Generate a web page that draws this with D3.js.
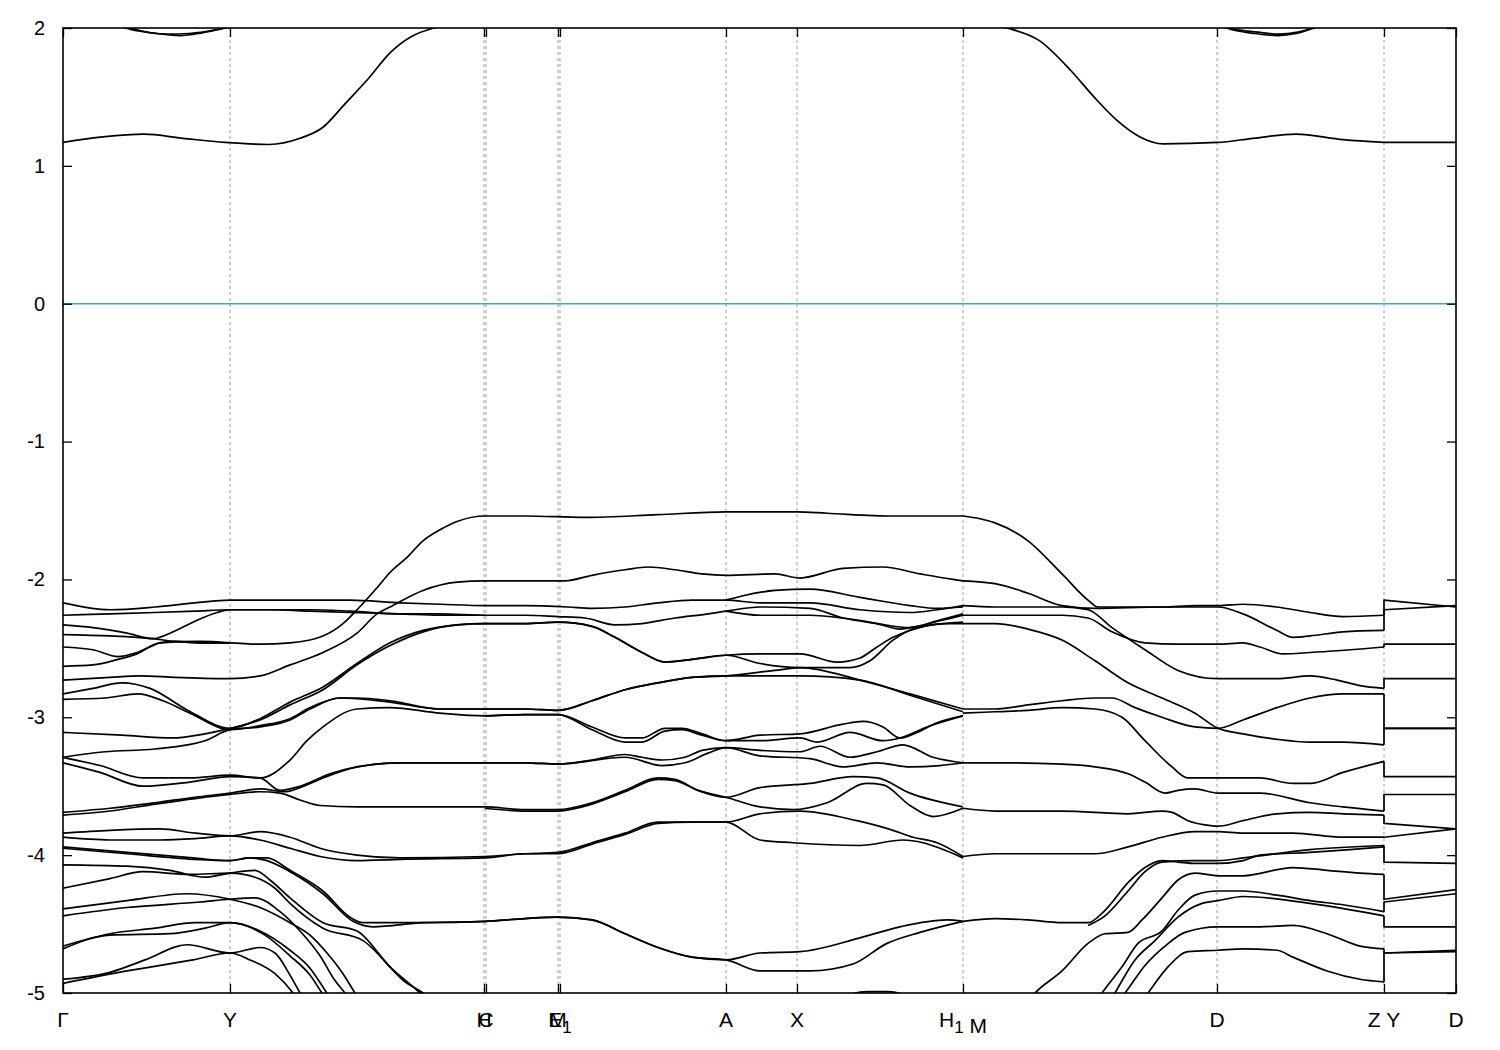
<!DOCTYPE html>
<html><head><meta charset="utf-8">
<script src="https://cdn.jsdelivr.net/npm/d3@7"></script>
<style>
body{margin:0;background:#fff}
text{font-family:"Liberation Sans",Arial,Helvetica,sans-serif;fill:#000}
</style>
</head><body>
<svg id="chart" width="1500" height="1050"></svg>
<script>
// ---------------- DATA ----------------
const yTickValues = [2, 1, 0, -1, -2, -3, -4, -5];
const kPointPositions = [0, 1.67, 4.21, 4.23, 4.95, 4.97, 6.63, 7.34, 9.00, 11.54, 13.21, 13.93];
const kPointLabels = ["Γ", "Y", "H", "C", "M", "E_1", "A", "X", "H_1 M", "D", "Z Y", "D"];
const fermiLevel = 0;
const kRange = [0, 13.93];
const energyRange = [-5, 2];

// valence bands along Γ–Y–H|C–M|E1–A–X–H1  ([k, E] pairs)
const bandsGammaToH1 = [
 [[0,-2.17],[0.47,-2.22],[0.92,-2.20],[1.32,-2.17],[1.67,-2.15],[2.07,-2.15],[2.47,-2.15],[2.87,-2.15],[3.37,-2.17],[3.77,-2.18],[4.22,-2.19],[4.62,-2.19],[5.05,-2.20],[5.29,-2.21],[5.62,-2.20],[5.95,-2.17],[6.29,-2.15],[6.63,-2.15],[6.97,-2.17],[7.47,-2.17],[7.97,-2.22],[8.47,-2.24],[8.74,-2.22],[9.00,-2.19]],
 [[6.63,-2.15],[6.79,-2.12],[7.12,-2.08],[7.47,-2.07],[7.97,-2.13],[8.47,-2.19],[8.74,-2.21],[9.00,-2.20]],
 [[0,-2.26],[0.47,-2.25],[0.92,-2.24],[1.32,-2.23],[1.67,-2.22],[2.07,-2.22],[2.47,-2.22],[2.87,-2.23],[3.37,-2.25],[3.77,-2.25],[4.22,-2.26],[4.62,-2.26],[4.95,-2.27],[5.22,-2.28],[5.52,-2.33],[5.79,-2.32],[6.12,-2.28],[6.45,-2.25],[6.63,-2.23],[6.97,-2.20],[7.47,-2.21],[7.80,-2.28],[8.14,-2.32],[8.47,-2.35],[8.74,-2.30],[9.00,-2.25]],
 [[6.63,-2.23],[6.97,-2.26],[7.47,-2.26],[7.80,-2.28],[8.14,-2.32],[8.37,-2.36],[8.54,-2.34],[8.77,-2.30],[9.00,-2.26]],
 [[0,-2.33],[0.30,-2.35],[0.64,-2.39],[0.90,-2.43],[1.07,-2.39],[1.30,-2.31],[1.54,-2.24],[1.67,-2.22],[2.07,-2.22],[2.47,-2.23],[2.87,-2.24],[3.37,-2.25],[3.77,-2.26],[4.22,-2.26]],
 [[0,-2.40],[0.47,-2.41],[0.90,-2.43],[1.12,-2.45],[1.37,-2.46],[1.67,-2.46],[1.97,-2.47],[2.27,-2.46],[2.60,-2.41],[2.80,-2.32],[2.94,-2.22],[3.14,-2.06],[3.27,-1.95],[3.44,-1.84],[3.60,-1.72],[3.77,-1.64],[3.94,-1.58],[4.22,-1.54],[4.62,-1.54],[5.22,-1.55],[5.95,-1.53],[6.63,-1.51],[7.34,-1.51],[7.64,-1.52],[8.30,-1.54],[9.00,-1.54]],
 [[0,-2.49],[0.30,-2.51],[0.55,-2.56],[0.74,-2.53],[0.97,-2.46],[1.12,-2.45],[1.37,-2.46],[1.67,-2.46]],
 [[0,-2.63],[0.30,-2.62],[0.55,-2.58],[0.74,-2.54],[0.97,-2.46],[1.37,-2.45],[1.67,-2.46]],
 [[0,-2.73],[0.47,-2.71],[0.77,-2.70],[1.12,-2.71],[1.67,-2.72],[1.97,-2.70],[2.27,-2.62],[2.60,-2.53],[2.94,-2.39],[3.14,-2.25],[3.27,-2.20],[3.60,-2.08],[3.94,-2.02],[4.22,-2.01],[4.62,-2.01],[5.02,-2.01],[5.29,-1.97],[5.62,-1.93],[5.85,-1.91],[6.12,-1.93],[6.39,-1.96],[6.63,-1.97],[7.12,-1.96],[7.37,-1.99],[7.80,-1.92],[8.20,-1.91],[8.57,-1.96],[8.90,-2.00],[9.00,-2.01]],
 [[0,-2.83],[0.30,-2.79],[0.59,-2.75],[0.87,-2.79],[1.25,-2.95],[1.67,-3.08],[1.97,-3.01],[2.27,-2.89],[2.60,-2.78],[2.94,-2.61],[3.27,-2.46],[3.60,-2.37],[3.94,-2.33],[4.22,-2.32],[4.62,-2.32],[4.95,-2.31],[5.29,-2.34],[5.52,-2.42],[5.79,-2.53],[6.02,-2.60],[6.29,-2.58],[6.63,-2.55],[6.97,-2.54],[7.37,-2.54],[7.74,-2.60],[7.97,-2.57],[8.14,-2.49],[8.30,-2.42],[8.47,-2.37],[8.80,-2.32],[9.00,-2.32]],
 [[0,-3.11],[0.59,-3.13],[1.09,-3.15],[1.42,-3.12],[1.67,-3.08],[1.97,-3.02],[2.27,-2.91],[2.60,-2.80],[2.94,-2.62],[3.27,-2.48],[3.60,-2.38],[3.94,-2.33],[4.22,-2.32],[4.62,-2.32],[4.95,-2.31],[5.29,-2.34],[5.52,-2.42],[5.79,-2.53],[6.02,-2.60],[6.29,-2.58],[6.63,-2.55],[6.97,-2.61],[7.37,-2.64],[7.87,-2.64],[8.07,-2.59],[8.30,-2.44],[8.54,-2.35],[9.00,-2.31]],
 [[0,-2.87],[0.42,-2.86],[0.75,-2.83],[1.00,-2.88],[1.27,-2.97],[1.67,-3.09],[1.97,-3.06],[2.27,-3.01],[2.47,-2.93],[2.77,-2.86],[2.94,-2.86],[3.27,-2.88],[3.77,-2.94],[4.22,-2.94],[4.62,-2.94],[4.95,-2.95],[5.29,-2.88],[5.62,-2.80],[5.95,-2.75],[6.29,-2.71],[6.63,-2.70],[7.12,-2.66],[7.37,-2.64],[7.97,-2.73],[8.47,-2.83],[9.00,-2.94]],
 [[0,-3.29],[0.42,-3.25],[0.92,-3.23],[1.42,-3.17],[1.67,-3.09],[1.97,-3.07],[2.27,-3.02],[2.47,-2.94],[2.77,-2.86],[3.27,-2.89],[3.77,-2.94],[4.22,-2.94],[4.62,-2.94],[4.95,-2.95],[5.29,-2.88],[5.62,-2.80],[5.95,-2.75],[6.29,-2.71],[6.63,-2.70],[6.97,-2.70],[7.37,-2.70],[7.97,-2.73],[8.47,-2.84],[9.00,-2.96]],
 [[0,-3.29],[0.37,-3.35],[0.80,-3.44],[1.27,-3.44],[1.67,-3.42],[1.97,-3.44],[2.27,-3.31],[2.44,-3.17],[2.60,-3.07],[2.94,-2.94],[3.27,-2.93],[3.77,-2.97],[4.22,-2.99],[4.62,-2.98],[4.95,-2.98],[5.29,-3.07],[5.62,-3.15],[5.79,-3.15],[6.02,-3.08],[6.19,-3.08],[6.39,-3.12],[6.63,-3.17],[6.97,-3.13],[7.37,-3.12],[7.80,-3.05],[8.00,-3.03],[8.20,-3.07],[8.37,-3.15],[8.54,-3.11],[8.74,-3.04],[9.00,-2.99]],
 [[0,-3.33],[0.37,-3.40],[0.80,-3.50],[1.27,-3.47],[1.67,-3.43],[1.97,-3.44],[2.17,-3.53],[2.37,-3.50],[2.67,-3.41],[2.94,-3.36],[3.37,-3.33],[4.22,-3.33],[4.62,-3.33],[4.95,-3.34],[5.29,-3.31],[5.62,-3.27],[5.79,-3.29],[5.99,-3.31],[6.22,-3.29],[6.39,-3.24],[6.63,-3.22],[6.97,-3.24],[7.37,-3.25],[7.57,-3.21],[7.87,-3.29],[8.14,-3.25],[8.40,-3.20],[8.70,-3.29],[9.00,-3.33]],
 [[0,-3.69],[0.47,-3.66],[0.92,-3.62],[1.32,-3.58],[1.67,-3.55],[1.97,-3.52],[2.22,-3.54],[2.37,-3.51],[2.60,-3.44],[2.94,-3.36],[3.37,-3.33],[4.22,-3.33],[4.62,-3.33],[4.95,-3.34],[5.62,-3.29],[5.99,-3.35],[6.22,-3.33],[6.45,-3.26],[6.63,-3.22],[6.97,-3.28],[7.47,-3.30],[7.80,-3.36],[8.14,-3.33],[8.47,-3.36],[8.77,-3.35],[9.00,-3.33]],
 [[0,-3.71],[0.47,-3.68],[0.92,-3.63],[1.32,-3.59],[1.67,-3.56],[1.97,-3.54],[2.17,-3.55],[2.37,-3.60],[2.57,-3.64],[2.94,-3.65],[3.57,-3.65],[4.22,-3.65],[4.62,-3.67],[4.95,-3.67],[5.29,-3.62],[5.62,-3.53],[5.95,-3.44],[6.12,-3.45],[6.35,-3.53],[6.63,-3.58],[6.97,-3.51],[7.47,-3.48],[7.90,-3.43],[8.14,-3.44],[8.47,-3.55],[9.00,-3.65]],
 [[4.22,-2.99],[4.62,-2.98],[4.95,-2.98],[5.29,-3.09],[5.62,-3.18],[5.79,-3.18],[6.02,-3.10],[6.19,-3.09],[6.39,-3.13],[6.63,-3.17],[6.97,-3.17],[7.37,-3.15],[7.54,-3.18],[7.87,-3.11],[8.20,-3.17],[8.37,-3.15],[8.64,-3.07],[9.00,-2.99]],
 [[0,-3.84],[0.47,-3.82],[0.97,-3.81],[1.32,-3.84],[1.67,-3.86],[1.97,-3.83],[2.27,-3.87],[2.57,-3.95],[2.94,-4.00],[3.37,-4.02],[4.22,-4.01],[4.62,-3.99],[4.95,-3.98],[5.29,-3.91],[5.62,-3.84],[5.95,-3.76],[6.29,-3.76],[6.63,-3.76],[6.97,-3.70],[7.37,-3.68],[7.94,-3.75],[8.30,-3.82],[8.50,-3.87],[8.74,-3.91],[9.00,-4.01]],
 [[4.22,-3.66],[4.62,-3.68],[4.95,-3.68],[5.29,-3.63],[5.62,-3.54],[5.95,-3.45],[6.12,-3.46],[6.35,-3.53],[6.63,-3.58],[6.97,-3.65],[7.30,-3.67],[7.64,-3.62],[8.04,-3.48],[8.20,-3.49],[8.47,-3.64],[8.70,-3.72],[9.00,-3.66]],
 [[0,-3.87],[0.47,-3.89],[0.97,-3.89],[1.32,-3.88],[1.67,-3.86],[1.97,-3.89],[2.27,-3.95],[2.57,-4.01],[2.94,-4.04],[3.37,-4.03],[4.22,-4.02],[4.62,-3.99],[4.95,-3.99],[5.29,-3.92],[5.62,-3.85],[5.95,-3.77],[6.29,-3.76],[6.63,-3.76],[6.97,-3.89],[7.30,-3.91],[7.97,-3.93],[8.40,-3.89],[8.60,-3.91],[8.77,-3.95],[9.00,-4.02]],
 [[0,-3.94],[0.64,-3.98],[1.30,-4.02],[1.67,-4.04],[1.87,-4.02],[2.04,-4.02],[2.27,-4.11],[2.60,-4.26],[2.87,-4.45],[3.00,-4.49],[3.60,-4.49],[4.22,-4.48],[4.62,-4.46],[4.95,-4.45],[5.29,-4.47],[5.62,-4.57],[5.95,-4.67],[6.29,-4.74],[6.63,-4.76],[6.97,-4.71],[7.37,-4.70],[7.97,-4.60],[8.37,-4.52],[8.84,-4.47],[9.00,-4.48]],
 [[0,-3.95],[0.64,-3.99],[1.30,-4.03],[1.67,-4.04],[1.87,-4.02],[2.04,-4.04],[2.27,-4.12],[2.60,-4.28],[2.90,-4.48],[3.10,-4.52],[3.60,-4.49],[4.22,-4.48],[4.62,-4.46],[4.95,-4.45],[5.29,-4.47],[5.62,-4.57],[5.95,-4.67],[6.29,-4.74],[6.63,-4.76],[6.97,-4.84],[7.47,-4.84],[7.90,-4.79],[8.24,-4.64],[8.57,-4.56],[9.00,-4.48]],
 [[0,-4.07],[0.64,-4.08],[1.07,-4.11],[1.42,-4.16],[1.67,-4.13],[1.92,-4.11],[2.07,-4.18],[2.27,-4.31],[2.60,-4.49],[2.94,-4.55],[3.27,-4.81],[3.54,-4.98],[3.77,-5.13]],
 [[0,-4.24],[0.47,-4.17],[0.80,-4.12],[1.27,-4.14],[1.67,-4.13],[1.92,-4.16],[2.12,-4.24],[2.27,-4.35],[2.60,-4.53],[3.00,-4.62],[3.44,-4.93],[3.60,-5.00],[3.77,-5.13]],
 [[0,-4.39],[0.64,-4.33],[1.24,-4.28],[1.67,-4.32],[1.97,-4.38],[2.27,-4.49],[2.47,-4.58],[2.64,-4.71],[2.80,-4.86],[2.92,-5.00],[3.07,-5.16]],
 [[0,-4.44],[0.64,-4.38],[1.37,-4.34],[1.67,-4.32],[1.92,-4.31],[2.17,-4.41],[2.37,-4.55],[2.57,-4.73],[2.72,-4.91],[2.82,-5.00],[2.97,-5.16]],
 [[0,-4.66],[0.47,-4.57],[0.92,-4.53],[1.32,-4.49],[1.67,-4.49],[1.97,-4.55],[2.27,-4.69],[2.47,-4.82],[2.62,-4.98],[2.72,-5.09]],
 [[0,-4.68],[0.47,-4.58],[1.07,-4.57],[1.42,-4.53],[1.67,-4.49],[2.02,-4.58],[2.27,-4.73],[2.47,-4.87],[2.59,-5.00],[2.72,-5.13]],
 [[0,-4.90],[0.47,-4.85],[0.82,-4.76],[1.24,-4.65],[1.67,-4.71],[1.97,-4.67],[2.12,-4.71],[2.27,-4.87],[2.37,-5.00],[2.47,-5.13]],
 [[0,-4.93],[0.64,-4.84],[1.30,-4.76],[1.67,-4.71],[1.87,-4.76],[2.12,-4.86],[2.30,-5.00],[2.42,-5.13]],
 [[7.55,-5.10],[8.05,-4.99],[8.25,-4.99],[8.65,-5.10]]
];

// valence bands along M–D–Z
const bandsMToZ = [
 [[9.00,-1.54],[9.17,-1.56],[9.32,-1.59],[9.65,-1.72],[9.99,-1.96],[10.25,-2.15],[10.35,-2.20],[10.65,-2.20],[10.99,-2.20],[11.32,-2.19],[11.55,-2.19],[11.80,-2.18],[12.14,-2.20],[12.47,-2.24],[12.80,-2.27],[13.21,-2.26]],
 [[9.00,-2.01],[9.32,-2.03],[9.65,-2.10],[9.99,-2.19],[10.32,-2.21],[10.99,-2.20],[11.55,-2.20],[11.80,-2.25],[12.14,-2.37],[12.30,-2.42],[12.47,-2.41],[12.80,-2.38],[13.21,-2.37]],
 [[9.00,-2.19],[9.32,-2.20],[9.99,-2.20],[10.25,-2.22],[10.49,-2.35],[10.82,-2.51],[11.15,-2.66],[11.55,-2.72],[12.14,-2.72],[12.47,-2.70],[12.74,-2.73],[12.97,-2.77],[13.21,-2.79]],
 [[9.00,-2.26],[9.32,-2.26],[9.99,-2.26],[10.25,-2.28],[10.49,-2.38],[10.82,-2.46],[11.15,-2.47],[11.55,-2.47],[11.80,-2.46],[11.97,-2.49],[12.20,-2.54],[12.47,-2.53],[13.21,-2.49]],
 [[9.00,-2.32],[9.32,-2.32],[9.65,-2.36],[9.99,-2.44],[10.32,-2.59],[10.65,-2.75],[10.99,-2.86],[11.32,-2.97],[11.55,-3.08],[11.80,-3.12],[12.14,-3.16],[12.47,-3.18],[12.80,-3.18],[13.21,-3.20]],
 [[9.00,-2.94],[9.32,-2.94],[9.65,-2.91],[9.99,-2.88],[10.32,-2.86],[10.49,-2.86],[10.72,-2.93],[10.99,-3.00],[11.32,-3.07],[11.55,-3.08],[11.80,-3.02],[12.14,-2.93],[12.47,-2.86],[12.80,-2.83],[13.21,-2.83]],
 [[9.00,-2.97],[9.32,-2.96],[9.65,-2.95],[9.99,-2.93],[10.32,-2.94],[10.59,-3.00],[10.82,-3.17],[11.09,-3.36],[11.25,-3.44],[11.55,-3.44],[11.97,-3.44],[12.30,-3.48],[12.47,-3.48],[12.80,-3.40],[13.21,-3.32]],
 [[9.00,-3.33],[9.32,-3.33],[9.99,-3.34],[10.32,-3.36],[10.65,-3.41],[10.82,-3.47],[11.02,-3.55],[11.15,-3.53],[11.32,-3.52],[11.55,-3.55],[11.97,-3.55],[12.47,-3.62],[12.80,-3.65],[13.21,-3.68]],
 [[9.00,-3.66],[9.32,-3.68],[9.99,-3.68],[10.65,-3.70],[10.99,-3.68],[11.09,-3.69],[11.25,-3.75],[11.42,-3.78],[11.55,-3.79],[11.80,-3.75],[12.14,-3.70],[12.47,-3.69],[12.80,-3.70],[13.21,-3.71]],
 [[9.00,-4.01],[9.32,-3.99],[9.99,-3.99],[10.32,-3.99],[10.65,-3.94],[10.99,-3.87],[11.32,-3.83],[11.55,-3.83],[11.80,-3.84],[12.30,-3.84],[12.80,-3.87],[13.21,-3.87]],
 [[9.00,-4.48],[9.32,-4.46],[9.65,-4.47],[9.99,-4.49],[10.25,-4.49],[10.42,-4.40],[10.65,-4.20],[10.82,-4.09],[10.99,-4.04],[11.15,-4.05],[11.32,-4.06],[11.55,-4.06],[11.80,-4.04],[11.97,-4.00],[12.47,-3.98],[12.87,-3.96],[13.21,-3.94]],
 [[10.25,-4.51],[10.42,-4.44],[10.65,-4.26],[10.82,-4.12],[10.99,-4.05],[11.32,-4.04],[11.55,-4.04],[11.80,-4.02],[12.47,-3.96],[13.21,-3.93]],
 [[9.57,-5.13],[9.72,-5.00],[9.99,-4.84],[10.25,-4.64],[10.42,-4.57],[10.65,-4.56],[10.79,-4.47],[10.99,-4.31],[11.15,-4.18],[11.32,-4.13],[11.55,-4.15],[11.80,-4.15],[12.30,-4.09],[12.64,-4.11],[12.97,-4.13],[13.21,-4.14]],
 [[10.27,-5.13],[10.39,-5.00],[10.59,-4.81],[10.75,-4.64],[10.99,-4.55],[11.15,-4.40],[11.32,-4.29],[11.55,-4.26],[11.80,-4.26],[12.14,-4.29],[12.47,-4.33],[12.80,-4.36],[13.21,-4.41]],
 [[10.42,-5.13],[10.52,-5.00],[10.72,-4.76],[10.92,-4.62],[11.15,-4.45],[11.39,-4.35],[11.55,-4.33],[11.80,-4.30],[12.47,-4.35],[13.21,-4.44]],
 [[10.72,-5.13],[10.85,-5.00],[11.05,-4.81],[11.25,-4.70],[11.55,-4.69],[11.80,-4.68],[12.14,-4.69],[12.30,-4.74],[12.64,-4.84],[12.97,-4.90],[13.21,-4.92]],
 [[10.47,-5.13],[10.62,-5.00],[10.82,-4.80],[11.02,-4.66],[11.22,-4.56],[11.55,-4.52],[11.97,-4.52],[12.30,-4.51],[12.64,-4.57],[12.97,-4.66],[13.21,-4.68]]
];

// valence bands along Y–D (first pair: value at Z joined to value at Y)
const bandsYToD = [
 [[13.21,-2.26],[13.21,-2.15],[13.93,-2.20]],
 [[13.21,-2.37],[13.21,-2.22],[13.93,-2.19]],
 [[13.21,-2.49],[13.21,-2.47],[13.93,-2.47]],
 [[13.21,-2.79],[13.21,-2.72],[13.93,-2.72]],
 [[13.21,-2.83],[13.21,-3.08],[13.93,-3.08]],
 [[13.21,-3.20],[13.21,-3.08],[13.93,-3.08]],
 [[13.21,-3.32],[13.21,-3.43],[13.93,-3.43]],
 [[13.21,-3.68],[13.21,-3.56],[13.93,-3.56]],
 [[13.21,-3.71],[13.21,-3.77],[13.93,-3.81]],
 [[13.21,-3.87],[13.21,-3.87],[13.93,-3.81]],
 [[13.21,-3.93],[13.21,-4.05],[13.93,-4.06]],
 [[13.21,-4.14],[13.21,-4.32],[13.93,-4.25]],
 [[13.21,-4.41],[13.21,-4.34],[13.93,-4.28]],
 [[13.21,-4.44],[13.21,-4.52],[13.93,-4.52]],
 [[13.21,-4.68],[13.21,-4.71],[13.93,-4.69]],
 [[13.21,-4.92],[13.21,-4.71],[13.93,-4.70]]
];

// conduction bands
const conductionBands = [
 [[0,1.17],[0.40,1.21],[0.81,1.23],[1.20,1.20],[1.62,1.17],[2.06,1.155],[2.37,1.20],[2.60,1.28],[2.82,1.45],[3.05,1.63],[3.27,1.82],[3.49,1.94],[3.71,2.00],[4.00,2.04],[4.30,2.06]],
 [[9.00,2.05],[9.44,2.00],[9.76,1.91],[10.08,1.69],[10.31,1.50],[10.54,1.33],[10.77,1.21],[11.00,1.16],[11.55,1.17],[11.90,1.20],[12.33,1.23],[12.80,1.19],[13.21,1.17]],
 [[13.21,1.17],[13.93,1.17]],
 [[0.50,2.06],[0.68,2.00],[1.04,1.955],[1.26,1.96],[1.62,2.00],[1.80,2.03]],
 [[0.50,2.04],[0.63,2.00],[0.95,1.96],[1.17,1.945],[1.39,1.965],[1.62,2.00],[1.80,2.03]],
 [[11.50,2.05],[11.64,2.00],[11.92,1.96],[12.15,1.945],[12.33,1.96],[12.51,2.00],[12.70,2.05]],
 [[11.50,2.04],[11.66,2.00],[11.95,1.97],[12.15,1.955],[12.35,1.97],[12.50,2.00],[12.70,2.05]]
];

// ---------------- DRAWING ----------------
const svg = d3.select("#chart");
const plot = {left: 63, right: 1456, top: 28, bottom: 993};
const x = d3.scaleLinear().domain(kRange).range([plot.left, plot.right]);
const y = d3.scaleLinear().domain(energyRange).range([plot.bottom, plot.top]);

svg.append("rect").attr("width",1500).attr("height",1050).attr("fill","#fff");

svg.append("defs").append("clipPath").attr("id","plotclip")
  .append("rect").attr("x",plot.left).attr("y",plot.top)
  .attr("width",plot.right-plot.left).attr("height",plot.bottom-plot.top);

// vertical dashed grid at high-symmetry points
svg.append("g").selectAll("line")
  .data(kPointPositions.filter(k => k > kRange[0] && k < kRange[1]))
  .join("line")
  .attr("x1", d => x(d)).attr("x2", d => x(d))
  .attr("y1", plot.top).attr("y2", plot.bottom)
  .attr("stroke", "#a0a0a0").attr("stroke-width", 1)
  .attr("stroke-dasharray", "3,3");

const g = svg.append("g").attr("clip-path","url(#plotclip)");

// Fermi level
g.append("line")
  .attr("x1", x(kRange[0])).attr("x2", x(kRange[1]))
  .attr("y1", y(fermiLevel)).attr("y2", y(fermiLevel))
  .attr("stroke", "#3ea6e0").attr("stroke-width", 1.6);

const smooth = d3.line().x(d => x(d[0])).y(d => y(d[1])).curve(d3.curveMonotoneX);
const straight = d3.line().x(d => x(d[0])).y(d => y(d[1])).curve(d3.curveLinear);

function drawBands(data, gen){
  g.append("g").selectAll("path").data(data).join("path")
    .attr("d", gen).attr("fill","none").attr("stroke","#000")
    .attr("stroke-width",1.7).attr("stroke-linejoin","round");
}
drawBands(bandsGammaToH1, smooth);
drawBands(bandsMToZ, smooth);
drawBands(bandsYToD, straight);
drawBands(conductionBands.filter(b => b.length > 2), smooth);
drawBands(conductionBands.filter(b => b.length <= 2), straight);

// frame
svg.append("rect").attr("x",plot.left).attr("y",plot.top)
  .attr("width",plot.right-plot.left).attr("height",plot.bottom-plot.top)
  .attr("fill","none").attr("stroke","#000").attr("stroke-width",1.6);

// axes (ticks pointing inward)
const yLeft = svg.append("g").attr("transform",`translate(${plot.left},0)`)
  .call(d3.axisLeft(y).tickValues(yTickValues).tickSize(-9).tickPadding(18).tickFormat(d3.format("d")));
const yRight = svg.append("g").attr("transform",`translate(${plot.right},0)`)
  .call(d3.axisRight(y).tickValues(yTickValues).tickSize(-9).tickFormat(""));
const xBottom = svg.append("g").attr("transform",`translate(0,${plot.bottom})`)
  .call(d3.axisBottom(x).tickValues(kPointPositions).tickSize(-9).tickFormat(""));
const xTop = svg.append("g").attr("transform",`translate(0,${plot.top})`)
  .call(d3.axisTop(x).tickValues(kPointPositions).tickSize(-9).tickFormat(""));
[yLeft,yRight,xBottom,xTop].forEach(a => {
  a.select(".domain").remove();
  a.selectAll(".tick line").attr("stroke","#000").attr("stroke-width",1.3);
});
yLeft.selectAll(".tick text")
  .attr("font-family","'Liberation Sans',Arial,sans-serif")
  .attr("font-size",20).attr("fill","#000")
  .text(d => d < 0 ? "-" + Math.abs(d) : String(d));

// k-point labels
const labelG = svg.append("g");
kPointLabels.forEach((lab, i) => {
  const t = labelG.append("text")
    .attr("x", x(kPointPositions[i])).attr("y", 1027)
    .attr("text-anchor","middle").attr("font-size",21);
  if (lab === "Γ") t.attr("font-family","'Liberation Serif','DejaVu Serif',serif");
  const parts = lab.split(/(_\d)/).filter(s => s.length);
  parts.forEach(p => {
    if (p.startsWith("_")) {
      t.append("tspan").attr("dy",6).attr("font-size",17).text(p.slice(1));
      t.append("tspan").attr("dy",-6).text("");
    } else {
      t.append("tspan").text(p);
    }
  });
});
</script>
</body></html>
